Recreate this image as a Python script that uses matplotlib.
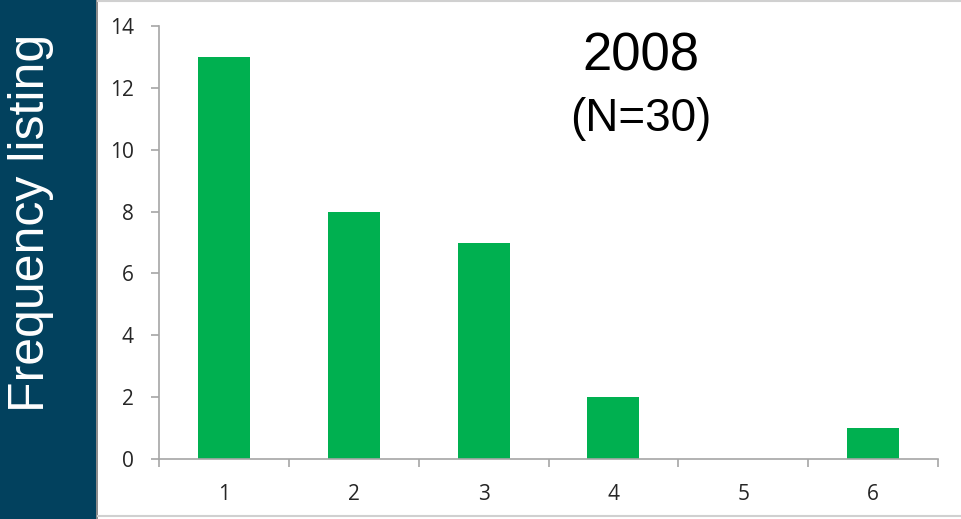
import matplotlib
matplotlib.use('Agg')
import matplotlib.pyplot as plt
from matplotlib.patches import Rectangle
from matplotlib.lines import Line2D

# Number of listings per respondent and how often each occurred
categories = [1, 2, 3, 4, 5, 6]
counts = [13, 8, 7, 2, 0, 1]
y_ticks = [0, 2, 4, 6, 8, 10, 12, 14]

W, H = 961, 519
fig = plt.figure(figsize=(W / 100, H / 100), dpi=100)
fig.patch.set_facecolor('white')

# Dark side band with the rotated heading
fig.add_artist(Rectangle((0, 0), 96 / W, 1, transform=fig.transFigure,
                         facecolor='#02415E', edgecolor='none'))
fig.add_artist(Rectangle((96 / W, 0), 2 / W, 1, transform=fig.transFigure,
                         facecolor='#8C8C8C', edgecolor='none'))
fig.add_artist(Line2D([98 / W, 1], [1 - 1 / H, 1 - 1 / H], transform=fig.transFigure,
                      color='#D0D0D0', linewidth=1.5))
fig.add_artist(Line2D([98 / W, 1], [1 - 516 / H, 1 - 516 / H], transform=fig.transFigure,
                      color='#D0D0D0', linewidth=1.5))
fig.text(31 / W, 1 - 223 / H, 'Frequency listing', rotation=90, color='white',
         fontsize=36, family='Liberation Sans', ha='center', va='center')

ax = fig.add_axes([159 / W, 1 - 459 / H, (938 - 159) / W, (459 - 26) / H])
ax.bar(categories, counts, width=0.4, color='#00B050')

ax.set_xlim(0.5, 6.5)
ax.set_ylim(0, 14)
ax.set_yticks(y_ticks)
ax.set_xticks(categories)
ax.set_xticks([c - 0.5 for c in categories] + [6.5], minor=True)

for side in ['top', 'right']:
    ax.spines[side].set_visible(False)
for side in ['left', 'bottom']:
    ax.spines[side].set_color('#A6A6A6')
    ax.spines[side].set_linewidth(1.2)

ax.tick_params(axis='y', direction='out', length=6, width=1.2, color='#A6A6A6',
               pad=12, labelsize=15, labelcolor='#262626')
ax.tick_params(axis='x', which='major', length=0, pad=18, labelsize=15,
               labelcolor='#262626')
ax.tick_params(axis='x', which='minor', direction='out', length=6, width=1.2,
               color='#A6A6A6')
for lbl in ax.get_xticklabels() + ax.get_yticklabels():
    lbl.set_fontfamily('Open Sans')

ax.text(0.618, 0.93, '2008', transform=ax.transAxes, ha='center', va='center',
        fontsize=38, family='Liberation Sans', color='black')
ax.text(0.618, 0.785, '(N=30)', transform=ax.transAxes, ha='center', va='center',
        fontsize=33, family='Liberation Sans', color='black')

fig.savefig('out.png', dpi=100)
